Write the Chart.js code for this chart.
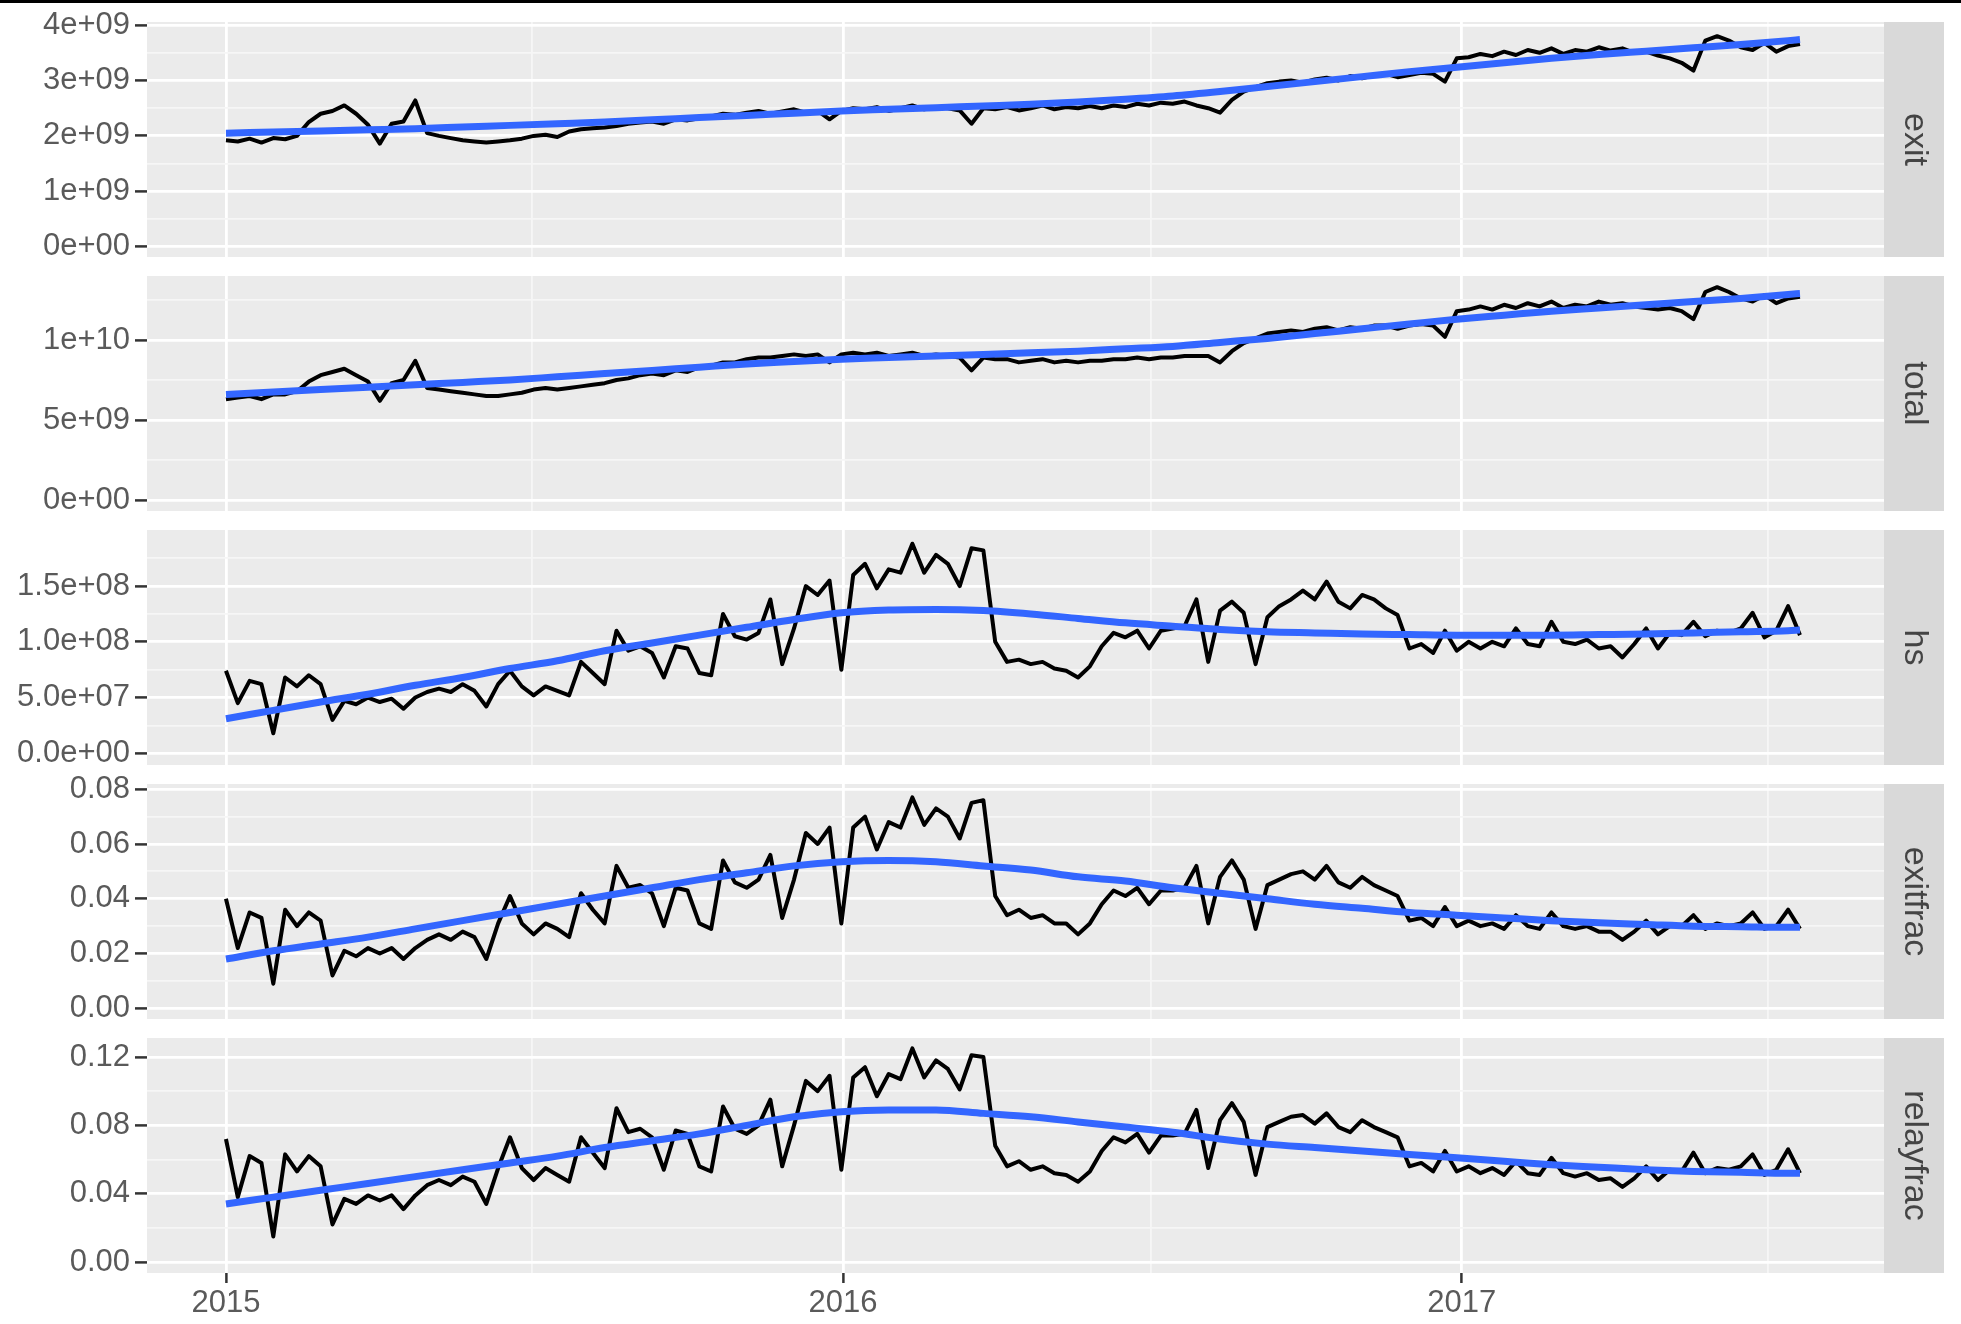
<!DOCTYPE html>
<html>
<head>
<meta charset="utf-8">
<script src="https://cdn.jsdelivr.net/npm/chart.js@4.4.1/dist/chart.umd.min.js"></script>
<style>
  html, body { margin: 0; padding: 0; background: #fff; }
  body { width: 1961px; height: 1324px; position: relative; overflow: hidden; }
  #topbar { position: absolute; left: 0; top: 0; width: 1961px; height: 3px; background: #000; }
  .panel { position: absolute; left: 0; }
</style>
</head>
<body>
<div id="topbar"></div>
<div id="charts"></div>
<script>
// weekly samples, day 0 = 2015-01-01
const weekDays = Array.from({ length: 134 }, (_, i) => i * 7);
// days where the smoothing curve is sampled
const smoothDays = [0, 28, 56, 84, 112, 140, 168, 196, 224, 252, 280, 308, 336, 364, 392, 420, 448,
  476, 504, 532, 560, 588, 616, 644, 672, 700, 728, 756, 784, 812, 840, 868, 896, 924, 931];

// x axis
const xMajor = [0, 365, 731];
const xMinor = [181, 547, 912];
const xTickLabels = ['2015', '2016', '2017'];

// exit (units of 1e9)
const exitValues = [
  1.92, 1.90, 1.95, 1.88, 1.96, 1.94, 2.00, 2.25, 2.40, 2.45,
  2.55, 2.40, 2.20, 1.86, 2.22, 2.26, 2.64, 2.05, 2.00, 1.96,
  1.92, 1.90, 1.88, 1.90, 1.92, 1.95, 2.00, 2.02, 1.98, 2.08,
  2.12, 2.14, 2.15, 2.18, 2.22, 2.24, 2.26, 2.22, 2.30, 2.28,
  2.32, 2.35, 2.40, 2.38, 2.42, 2.45, 2.40, 2.44, 2.48, 2.42,
  2.45, 2.30, 2.45, 2.50, 2.48, 2.52, 2.45, 2.50, 2.55, 2.48,
  2.52, 2.50, 2.46, 2.22, 2.50, 2.48, 2.52, 2.46, 2.50, 2.55,
  2.48, 2.52, 2.50, 2.54, 2.50, 2.55, 2.52, 2.58, 2.55, 2.60,
  2.58, 2.62, 2.55, 2.50, 2.42, 2.65, 2.80, 2.88, 2.95, 2.98,
  3.00, 2.96, 3.02, 3.05, 3.00, 3.08, 3.04, 3.10, 3.12, 3.06,
  3.10, 3.14, 3.12, 2.98, 3.40, 3.42, 3.48, 3.44, 3.52, 3.46,
  3.55, 3.50, 3.58, 3.48, 3.55, 3.52, 3.60, 3.54, 3.58, 3.50,
  3.52, 3.45, 3.40, 3.32, 3.18, 3.72, 3.80, 3.72, 3.60, 3.55,
  3.68, 3.52, 3.62, 3.66
];
const exitSmooth = [2.05, 2.07, 2.09, 2.11, 2.13, 2.16, 2.19, 2.22, 2.25, 2.29, 2.33, 2.37, 2.41, 2.45,
  2.48, 2.51, 2.54, 2.57, 2.61, 2.66, 2.72, 2.80, 2.89, 2.98, 3.07, 3.16, 3.24, 3.32, 3.40, 3.47,
  3.53, 3.59, 3.65, 3.72, 3.74];
const exitTicks = [0, 1e9, 2e9, 3e9, 4e9];
const exitMinor = [0.5e9, 1.5e9, 2.5e9, 3.5e9];
const exitTickLabels = ['0e+00', '1e+09', '2e+09', '3e+09', '4e+09'];

// total (units of 1e9)
const totalValues = [
  6.3, 6.4, 6.5, 6.3, 6.6, 6.6, 6.8, 7.4, 7.8, 8.0,
  8.2, 7.8, 7.4, 6.2, 7.3, 7.5, 8.7, 7.0, 6.9, 6.8,
  6.7, 6.6, 6.5, 6.5, 6.6, 6.7, 6.9, 7.0, 6.9, 7.0,
  7.1, 7.2, 7.3, 7.5, 7.6, 7.8, 7.9, 7.8, 8.1, 8.0,
  8.3, 8.4, 8.6, 8.6, 8.8, 8.9, 8.9, 9.0, 9.1, 9.0,
  9.1, 8.6, 9.1, 9.2, 9.1, 9.2, 9.0, 9.1, 9.2, 9.0,
  9.1, 9.0, 8.9, 8.1, 8.9, 8.8, 8.8, 8.6, 8.7, 8.8,
  8.6, 8.7, 8.6, 8.7, 8.7, 8.8, 8.8, 8.9, 8.8, 8.9,
  8.9, 9.0, 9.0, 9.0, 8.6, 9.3, 9.8, 10.1, 10.4, 10.5,
  10.6, 10.5, 10.7, 10.8, 10.6, 10.8, 10.7, 10.9, 10.9, 10.7,
  10.9, 11.0, 10.9, 10.2, 11.8, 11.9, 12.1, 11.9, 12.2, 12.0,
  12.3, 12.1, 12.4, 12.0, 12.2, 12.1, 12.4, 12.2, 12.3, 12.1,
  12.0, 11.9, 12.0, 11.8, 11.3, 13.0, 13.3, 13.0, 12.6, 12.4,
  12.8, 12.3, 12.6, 12.7
];
const totalSmooth = [6.6, 6.75, 6.9, 7.05, 7.2, 7.35, 7.5, 7.7, 7.9, 8.1, 8.3, 8.5, 8.65, 8.8, 8.9,
  9.0, 9.1, 9.2, 9.3, 9.45, 9.6, 9.85, 10.1, 10.4, 10.7, 11.0, 11.3, 11.55, 11.8, 12.0, 12.2, 12.4,
  12.6, 12.85, 12.9];
const totalTicks = [0, 5e9, 1e10];
const totalMinor = [2.5e9, 7.5e9, 12.5e9];
const totalTickLabels = ['0e+00', '5e+09', '1e+10'];

// hs (units of 1e8)
const hsValues = [
  0.74, 0.45, 0.65, 0.62, 0.18, 0.68, 0.60, 0.70, 0.62, 0.30,
  0.47, 0.44, 0.50, 0.46, 0.49, 0.40, 0.50, 0.55, 0.58, 0.55,
  0.62, 0.56, 0.42, 0.62, 0.74, 0.60, 0.52, 0.60, 0.56, 0.52,
  0.82, 0.72, 0.62, 1.10, 0.92, 0.96, 0.90, 0.68, 0.96, 0.94,
  0.72, 0.70, 1.25, 1.05, 1.02, 1.08, 1.38, 0.80, 1.12, 1.50,
  1.42, 1.55, 0.75, 1.60, 1.70, 1.48, 1.65, 1.62, 1.88, 1.62,
  1.78, 1.70, 1.50, 1.84, 1.82, 1.00, 0.82, 0.84, 0.80, 0.82,
  0.76, 0.74, 0.68, 0.78, 0.96, 1.08, 1.04, 1.10, 0.94, 1.10,
  1.12, 1.14, 1.38, 0.82, 1.28, 1.36, 1.26, 0.80, 1.22, 1.32,
  1.38, 1.46, 1.38, 1.54, 1.36, 1.30, 1.42, 1.38, 1.30, 1.24,
  0.94, 0.98, 0.90, 1.10, 0.92, 1.00, 0.94, 1.00, 0.96, 1.12,
  0.98, 0.96, 1.18, 1.00, 0.98, 1.02, 0.94, 0.96, 0.86, 0.98,
  1.12, 0.94, 1.08, 1.06, 1.18, 1.05, 1.10, 1.08, 1.12, 1.26,
  1.04, 1.10, 1.32, 1.06
];
const hsSmooth = [0.31, 0.385, 0.46, 0.53, 0.61, 0.68, 0.76, 0.83, 0.92, 0.99, 1.06, 1.13, 1.2, 1.26,
  1.285, 1.29, 1.28, 1.25, 1.21, 1.17, 1.14, 1.11, 1.09, 1.08, 1.07, 1.065, 1.06, 1.06, 1.06, 1.065,
  1.07, 1.08, 1.09, 1.10, 1.105];
const hsTicks = [0, 5e7, 1e8, 1.5e8];
const hsMinor = [2.5e7, 7.5e7, 1.25e8, 1.75e8];
const hsTickLabels = ['0.0e+00', '5.0e+07', '1.0e+08', '1.5e+08'];

// exitfrac
const exitfracValues = [
  0.040, 0.022, 0.035, 0.033, 0.009, 0.036, 0.030, 0.035, 0.032, 0.012,
  0.021, 0.019, 0.022, 0.020, 0.022, 0.018, 0.022, 0.025, 0.027, 0.025,
  0.028, 0.026, 0.018, 0.031, 0.041, 0.031, 0.027, 0.031, 0.029, 0.026,
  0.042, 0.036, 0.031, 0.052, 0.044, 0.045, 0.042, 0.030, 0.044, 0.043,
  0.031, 0.029, 0.054, 0.046, 0.044, 0.047, 0.056, 0.033, 0.047, 0.064,
  0.060, 0.066, 0.031, 0.066, 0.070, 0.058, 0.068, 0.066, 0.077, 0.067,
  0.073, 0.070, 0.062, 0.075, 0.076, 0.041, 0.034, 0.036, 0.033, 0.034,
  0.031, 0.031, 0.027, 0.031, 0.038, 0.043, 0.041, 0.044, 0.038, 0.043,
  0.043, 0.044, 0.052, 0.031, 0.048, 0.054, 0.047, 0.029, 0.045, 0.047,
  0.049, 0.050, 0.047, 0.052, 0.046, 0.044, 0.048, 0.045, 0.043, 0.041,
  0.032, 0.033, 0.030, 0.037, 0.030, 0.032, 0.030, 0.031, 0.029, 0.034,
  0.030, 0.029, 0.035, 0.030, 0.029, 0.030, 0.028, 0.028, 0.025, 0.028,
  0.032, 0.027, 0.030, 0.030, 0.034, 0.029, 0.031, 0.030, 0.031, 0.035,
  0.029, 0.030, 0.036, 0.029
];
const exitfracSmooth = [0.018, 0.021, 0.0235, 0.026, 0.029, 0.032, 0.035, 0.038, 0.041, 0.044, 0.047,
  0.0495, 0.052, 0.0535, 0.054, 0.0535, 0.052, 0.0505, 0.048, 0.0465, 0.044, 0.042, 0.040, 0.038,
  0.0365, 0.035, 0.034, 0.033, 0.032, 0.0312, 0.0306, 0.030, 0.0298, 0.0296, 0.0296];
const exitfracTicks = [0, 0.02, 0.04, 0.06, 0.08];
const exitfracMinor = [0.01, 0.03, 0.05, 0.07];
const exitfracTickLabels = ['0.00', '0.02', '0.04', '0.06', '0.08'];

// relayfrac
const relayfracValues = [
  0.072, 0.038, 0.062, 0.058, 0.015, 0.063, 0.053, 0.062, 0.056, 0.022,
  0.037, 0.034, 0.039, 0.036, 0.039, 0.031, 0.039, 0.045, 0.048, 0.045,
  0.050, 0.047, 0.034, 0.055, 0.073, 0.055, 0.048, 0.055, 0.051, 0.047,
  0.073, 0.064, 0.055, 0.090, 0.076, 0.078, 0.073, 0.054, 0.077, 0.075,
  0.056, 0.053, 0.091, 0.078, 0.075, 0.080, 0.095, 0.056, 0.080, 0.106,
  0.100, 0.109, 0.054, 0.108, 0.114, 0.097, 0.110, 0.107, 0.125, 0.108,
  0.118, 0.113, 0.101, 0.121, 0.120, 0.068, 0.056, 0.059, 0.054, 0.056,
  0.052, 0.051, 0.047, 0.053, 0.065, 0.073, 0.070, 0.075, 0.064, 0.074,
  0.074, 0.075, 0.089, 0.055, 0.083, 0.093, 0.082, 0.051, 0.079, 0.082,
  0.085, 0.086, 0.081, 0.087, 0.079, 0.076, 0.083, 0.079, 0.076, 0.073,
  0.056, 0.058, 0.053, 0.065, 0.053, 0.056, 0.052, 0.055, 0.051, 0.059,
  0.052, 0.051, 0.061, 0.052, 0.050, 0.052, 0.048, 0.049, 0.044, 0.049,
  0.056, 0.048, 0.054, 0.053, 0.064, 0.052, 0.055, 0.054, 0.056, 0.063,
  0.051, 0.054, 0.066, 0.052
];
const relayfracSmooth = [0.034, 0.038, 0.042, 0.046, 0.050, 0.054, 0.058, 0.062, 0.067, 0.071, 0.075,
  0.080, 0.085, 0.088, 0.089, 0.089, 0.087, 0.085, 0.082, 0.079, 0.076, 0.072, 0.069, 0.067, 0.065,
  0.063, 0.061, 0.059, 0.057, 0.0555, 0.054, 0.053, 0.0525, 0.052, 0.052];
const relayfracTicks = [0, 0.04, 0.08, 0.12];
const relayfracMinor = [0.02, 0.06, 0.10];
const relayfracTickLabels = ['0.00', '0.04', '0.08', '0.12'];

// ---- layout ----
const W = 1961, H = 1324;
const PLOT_LEFT = 147, PLOT_RIGHT = 1884, STRIP_W = 60;
const PANEL_H = 235, PAD = 24;
const panelTops = [22, 276, 530, 784, 1038];
const X_MIN = -46.7, X_MAX = 980.7;
const FONT = "'Liberation Sans', Arial, sans-serif";

const panels = [
  { label: 'exit', values: exitValues, smooth: exitSmooth, unit: 1e9,
    major: exitTicks, minor: exitMinor, tickLabels: exitTickLabels, min: -0.186e9, max: 4.056e9 },
  { label: 'total', values: totalValues, smooth: totalSmooth, unit: 1e9,
    major: totalTicks, minor: totalMinor, tickLabels: totalTickLabels, min: -0.69e9, max: 14.0e9 },
  { label: 'hs', values: hsValues, smooth: hsSmooth, unit: 1e8,
    major: hsTicks, minor: hsMinor, tickLabels: hsTickLabels, min: -0.105e8, max: 2.003e8 },
  { label: 'exitfrac', values: exitfracValues, smooth: exitfracSmooth, unit: 1,
    major: exitfracTicks, minor: exitfracMinor, tickLabels: exitfracTickLabels, min: -0.0039, max: 0.0819 },
  { label: 'relayfrac', values: relayfracValues, smooth: relayfracSmooth, unit: 1,
    major: relayfracTicks, minor: relayfracMinor, tickLabels: relayfracTickLabels, min: -0.0064, max: 0.1311 }
];

Chart.defaults.font.family = FONT;
Chart.defaults.font.size = 31;
Chart.defaults.color = '#5A5A5A';

// panel background + facet strip on the right
const facetPlugin = {
  id: 'facet',
  beforeDraw(chart) {
    const { ctx, chartArea: a } = chart;
    ctx.save();
    ctx.fillStyle = '#EBEBEB';
    ctx.fillRect(a.left, a.top, a.right - a.left, a.bottom - a.top);
    ctx.restore();
  },
  afterDraw(chart, args, opts) {
    const { ctx, chartArea: a } = chart;
    ctx.save();
    ctx.fillStyle = '#D9D9D9';
    ctx.fillRect(a.right, a.top, STRIP_W, a.bottom - a.top);
    ctx.translate(a.right + STRIP_W / 2, (a.top + a.bottom) / 2);
    ctx.rotate(Math.PI / 2);
    ctx.fillStyle = '#444444';
    ctx.font = '34px ' + FONT;
    ctx.textAlign = 'center';
    ctx.textBaseline = 'middle';
    ctx.fillText(opts.label, 0, 0);
    ctx.restore();
  }
};

function buildTicks(major, minor) {
  return major.map(v => ({ value: v, minor: false }))
    .concat(minor.map(v => ({ value: v, minor: true })))
    .sort((a, b) => a.value - b.value);
}

const gridColor = ctx => (ctx.tick && ctx.tick.minor) ? '#F6F6F6' : '#FFFFFF';
const gridWidth = ctx => (ctx.tick && ctx.tick.minor) ? 1.8 : 2.8;
const tickColor = ctx => (ctx.tick && ctx.tick.minor) ? 'rgba(0,0,0,0)' : '#333333';

const holder = document.getElementById('charts');

panels.forEach((p, i) => {
  const last = i === panels.length - 1;
  const top = panelTops[i] - PAD;
  const height = last ? H - top : PANEL_H + 2 * PAD;
  const bottomAxis = last ? height - PAD - PANEL_H : 0;

  const div = document.createElement('div');
  div.className = 'panel';
  div.style.top = top + 'px';
  div.style.width = W + 'px';
  div.style.height = height + 'px';
  const canvas = document.createElement('canvas');
  canvas.width = W;
  canvas.height = height;
  div.appendChild(canvas);
  holder.appendChild(div);

  new Chart(canvas, {
    type: 'line',
    data: {
      datasets: [
        {
          label: p.label + ' smooth',
          data: smoothDays.map((d, k) => ({ x: d, y: p.smooth[k] * p.unit })),
          borderColor: '#3366FF',
          borderWidth: 7,
          pointRadius: 0,
          cubicInterpolationMode: 'monotone',
          order: 0
        },
        {
          label: p.label,
          data: weekDays.map((d, k) => ({ x: d, y: p.values[k] * p.unit })),
          borderColor: '#000000',
          borderWidth: 4,
          borderJoinStyle: 'round',
          pointRadius: 0,
          tension: 0,
          order: 1
        }
      ]
    },
    options: {
      responsive: false,
      animation: false,
      devicePixelRatio: 1,
      events: [],
      layout: { padding: { left: 0, right: W - PLOT_RIGHT, top: PAD, bottom: last ? 0 : PAD } },
      plugins: {
        legend: { display: false },
        tooltip: { enabled: false },
        facet: { label: p.label }
      },
      scales: {
        x: {
          type: 'linear',
          min: X_MIN,
          max: X_MAX,
          bounds: 'data',
          afterBuildTicks: s => { s.ticks = buildTicks(xMajor, xMinor); },
          afterFit: s => { s.height = bottomAxis; },
          ticks: {
            display: last,
            autoSkip: false,
            maxRotation: 0,
            padding: 2,
            callback: v => {
              const k = xMajor.indexOf(v);
              return k >= 0 ? xTickLabels[k] : '';
            }
          },
          grid: {
            color: gridColor,
            lineWidth: gridWidth,
            drawTicks: last,
            tickLength: 10,
            tickWidth: 2.5,
            tickColor: tickColor
          },
          border: { display: false }
        },
        y: {
          type: 'linear',
          min: p.min,
          max: p.max,
          bounds: 'data',
          afterBuildTicks: s => { s.ticks = buildTicks(p.major, p.minor); },
          afterFit: s => { s.width = PLOT_LEFT; },
          ticks: {
            autoSkip: false,
            padding: 5,
            callback: v => {
              const k = p.major.indexOf(v);
              return k >= 0 ? p.tickLabels[k] : '';
            }
          },
          grid: {
            color: gridColor,
            lineWidth: gridWidth,
            drawTicks: true,
            tickLength: 12,
            tickWidth: 2.5,
            tickColor: tickColor
          },
          border: { display: false }
        }
      }
    },
    plugins: [facetPlugin]
  });
});
</script>
</body>
</html>
